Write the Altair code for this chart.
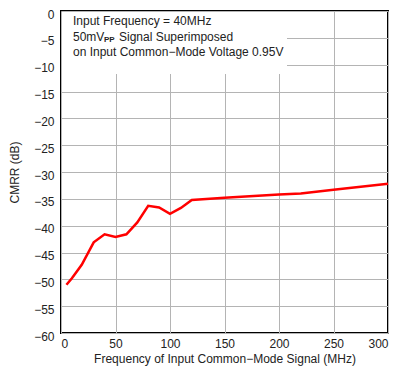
import altair as alt
import pandas as pd

freq = [5, 10, 19, 30, 40, 50, 60, 70, 80, 90, 100, 110, 120, 150, 200, 220, 250, 300]
cmrr = [-51.0, -49.8, -47.3, -43.1, -41.6, -42.1, -41.6, -39.4, -36.3, -36.6, -37.8, -36.7, -35.2, -34.8, -34.2, -34.0, -33.3, -32.2]

notes_main = ["Input Frequency = 40MHz", "50mV", "on Input Common\u2212Mode Voltage 0.95V"]
notes_sub = ["PP"]
notes_tail = ["Signal Superimposed"]

df = pd.DataFrame({"f": freq, "c": cmrr})
one = pd.DataFrame({"a": [0]})

FONT = "Liberation Sans"
TXT = "#222222"

x = alt.X("f:Q", scale=alt.Scale(domain=[0, 300], nice=False),
          axis=alt.Axis(values=list(range(0, 301, 50)), title="Frequency of Input Common\u2212Mode Signal  (MHz)",
                        titlePadding=4, labelPadding=5))
y = alt.Y("c:Q", scale=alt.Scale(domain=[-60, 0], nice=False),
          axis=alt.Axis(values=list(range(-60, 1, 5)), title="CMRR (dB)", titlePadding=12,
                        labelOffset=3, labelPadding=7))

line = alt.Chart(df).mark_line(color="#ff0000", strokeWidth=2.5).encode(x=x, y=y)

box = alt.Chart(one).mark_rect(color="white").encode(
    x=alt.value(1), x2=alt.value(226), y=alt.value(1), y2=alt.value(63))

def txt(s, xv, yv, size=12, weight="normal"):
    return alt.Chart(one).mark_text(text=s, align="left", baseline="middle", fontSize=size,
                                    fontWeight=weight, font=FONT, color=TXT).encode(
        x=alt.value(xv), y=alt.value(yv))

t1 = txt(notes_main[0], 12, 10)
t2a = txt(notes_main[1], 12, 26)
t2b = txt(notes_sub[0], 43, 29, size=8, weight="bold")
t2c = txt(notes_tail[0], 58, 26)
t3 = txt(notes_main[2], 12, 41)

chart = alt.layer(line, box, t1, t2a, t2b, t2c, t3).properties(
    width=327, height=322,
    autosize=alt.AutoSizeParams(type="none"),
    padding={"left": 53, "top": 3, "right": 1, "bottom": 33},
).configure_view(
    stroke="black", strokeWidth=2
).configure_axis(
    domain=False, ticks=False, grid=True, gridColor="#b4b4b4", gridWidth=1,
    labelFont=FONT, labelFontSize=12, labelColor=TXT,
    titleFont=FONT, titleFontSize=12, titleColor=TXT, titleFontWeight="normal",
)

chart.save("out.html", embed_options={"renderer": "svg", "actions": False})
